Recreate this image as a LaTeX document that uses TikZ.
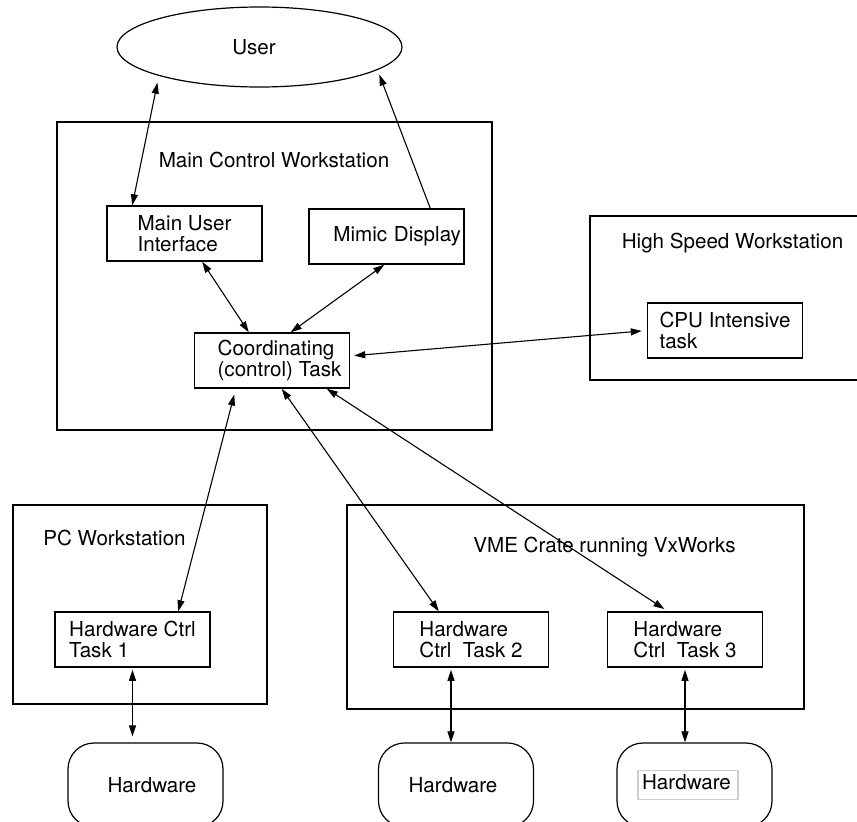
\documentclass[tikz,border=0pt]{standalone}
\usepackage{fontspec}
\setmainfont{TeX Gyre Heros}
\usetikzlibrary{arrows.meta,shapes.geometric}
\setlength{\fboxrule}{1.2pt}
\setlength{\fboxsep}{3.5pt}

\tikzset{
  >={Triangle[length=11pt,width=7pt]},
  frame/.style={draw, line width=1.5pt, inner sep=0pt},
  task/.style={draw, line width=1.5pt, minimum width=155pt, minimum height=55pt, align=left, inner sep=2pt},
  hwbox/.style={draw, line width=1.2pt, rounded corners=26pt, minimum width=155pt, minimum height=84pt},
  title/.style={inner sep=0pt},
  link/.style={line width=1.1pt}
}

\begin{document}
\begin{tikzpicture}[x=1pt,y=-1pt,font=\fontsize{20.6pt}{21pt}\selectfont]
\useasboundingbox (0,0) rectangle (857,822);
\clip (0,0) rectangle (857,822);
% workstations
\node[frame, minimum width=435pt, minimum height=308pt] (main) at (274.5,276) {};
\node[frame, minimum width=280pt, minimum height=164pt] (hsw) at (730,298) {};
\node[frame, minimum width=254pt, minimum height=199pt] (pcws) at (140,604.5) {};
\node[frame, minimum width=457pt, minimum height=204pt] (vme) at (575.5,607) {};
\node[title] (mainlbl) at (274,160) {Main Control Workstation};
\node[title] (hswlbl) at (732.5,243) {High Speed Workstation};
\node[title] (pclbl) at (114.5,538) {PC Workstation};
\node[title] (vmelbl) at (604.5,547) {VME Crate running VxWorks};
% user
\node[draw, ellipse, line width=1.2pt, minimum width=285pt, minimum height=80pt, inner sep=0pt] (user) at (259.5,47) {\hspace*{-11pt}User};
% tasks
\node[task] (mui) at (184.5,233.5) {Main User\\Interface};
\node[task, text width=149pt, align=right, inner xsep=3pt] (mimic) at (386.5,236.5) {Mimic Display};
\node[task] (coord) at (272,360.5) {\hspace*{15pt}Coordinating\\\hspace*{15pt}(control) Task};
\node[task] (cpu) at (725,330.5) {CPU Intensive\\task};
\node[task] (hw1) at (132.5,639.5) {Hardware Ctrl\\Task 1};
\node[task] (hw2) at (471,639.5) {Hardware\\Ctrl\ \ Task 2};
\node[task] (hw3) at (685,639.5) {Hardware\\Ctrl\ \ Task 3};
% hardware
\node[hwbox] (hwa) at (145.5,785) {\hspace*{13pt}Hardware};
\node[hwbox] (hwb) at (456,785) {\hspace*{-6pt}Hardware};
\node[hwbox] (hwc) at (694.5,785) {\hspace*{-13pt}\fcolorbox{gray!40}{white}{\strut Hardware\hspace{3pt}}};
% links
\draw[link,<->,shorten >=7pt] ([xshift=26pt]mui.north west) -- (user.196.5);
\draw[link,->,shorten >=5pt] ([xshift=122pt]mimic.north west) -- (user.349.4);
\draw[link,<->] ([xshift=96pt]mui.south west) -- ([xshift=55pt]coord.north west);
\draw[link,<->] ([xshift=76pt]mimic.south west) -- ([xshift=97pt]coord.north west);
\draw[link,<->,shorten <=4pt,shorten >=5pt] ([yshift=4.5pt]coord.east) -- (cpu.west);
\draw[link,<->,shorten <=6pt] ([xshift=42pt]coord.south west) -- ([xshift=124pt]hw1.north west);
\draw[link,<->] ([xshift=88pt]coord.south west) -- ([xshift=46pt]hw2.north west);
\draw[link,<->,shorten >=4pt] ([xshift=133pt]coord.south west) -- ([xshift=61pt]hw3.north west);
\draw[link,<->,shorten <=2pt,shorten >=6pt] (hw1.south) -- (hw1.south |- hwa.north);
\draw[link,<->,shorten <=2pt] ([xshift=-5pt]hwb.north |- hw2.south) -- ([xshift=-5pt]hwb.north);
\draw[link,<->,shorten <=2pt] (hw3.south) -- (hw3.south |- hwc.north);
\end{tikzpicture}
\end{document}
